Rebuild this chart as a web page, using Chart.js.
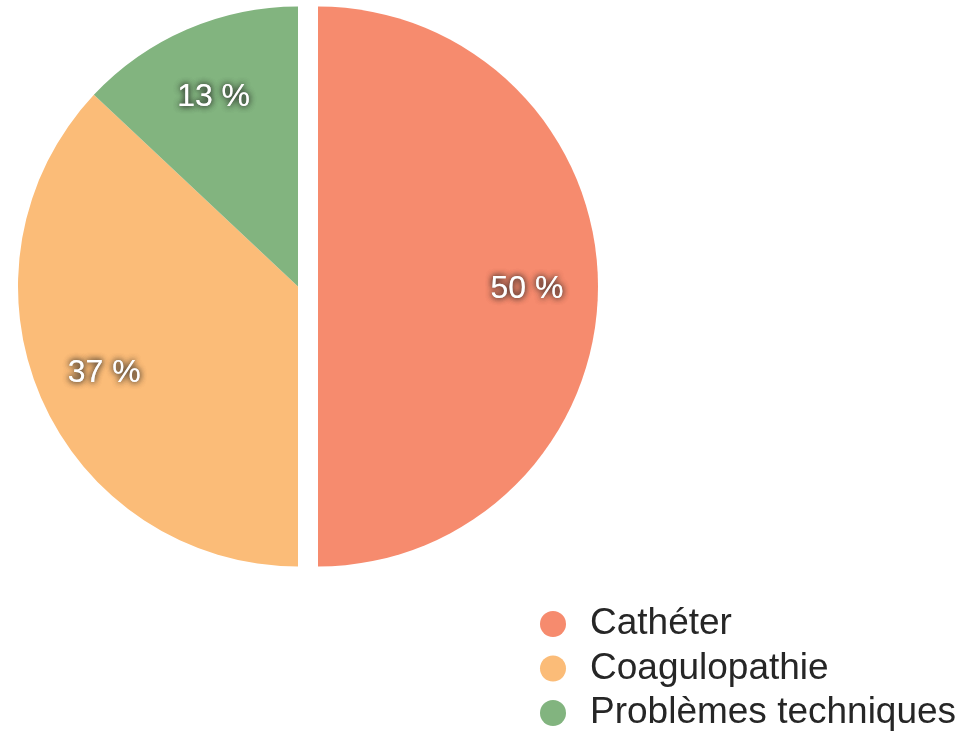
<!DOCTYPE html>
<html>
<head>
<meta charset="utf-8">
<script src="https://cdn.jsdelivr.net/npm/chart.js@4/dist/chart.umd.min.js"></script>
<style>
  html, body { margin: 0; padding: 0; background: #ffffff; }
  #wrap { position: relative; width: 972px; height: 734px; }
</style>
</head>
<body>
<div id="wrap"><canvas id="c" width="972" height="734"></canvas></div>
<script>
const categories = ['Cathéter', 'Coagulopathie', 'Problèmes techniques'];
const values = [50, 37, 13];
const percentLabels = ['50 %', '37 %', '13 %'];
const sliceColors = ['#F68B6E', '#FBBC78', '#82B47F'];
const explode = [20, 0, 0];

const FONT = '"Liberation Sans", Arial, Helvetica, sans-serif';

// Legend: drawn by Chart.js, placed in the lower-right corner
const legendPlacer = {
  id: 'legendPlacer',
  beforeInit(chart) {
    const lg = chart.legend;
    if (!lg) return;
    const origFit = lg.fit;
    lg.fit = function () {
      origFit.call(this);
      this.height = 0;
    };
  },
  afterLayout(chart) {
    const lg = chart.legend;
    if (!lg) return;
    lg.left = 527;
    lg.right = 972;
    lg.top = 598;
    lg.bottom = 734;
    lg.width = lg.right - lg.left;
    lg.height = lg.bottom - lg.top;
  }
};

// Exploded slice: shift the whole arc outward along its mid angle
const explodeSlices = {
  id: 'explodeSlices',
  beforeDatasetsDraw(chart) {
    const meta = chart.getDatasetMeta(0);
    meta.data.forEach((arc, i) => {
      const off = explode[i] || 0;
      if (!off || arc._exploded) return;
      const orig = arc.draw;
      arc.draw = function (ctx, area) {
        const mid = (this.startAngle + this.endAngle) / 2;
        ctx.save();
        ctx.translate(Math.cos(mid) * off, Math.sin(mid) * off);
        orig.call(this, ctx, area);
        ctx.restore();
      };
      arc._exploded = true;
    });
  }
};

const sliceLabels = {
  id: 'sliceLabels',
  afterDatasetsDraw(chart) {
    const ctx = chart.ctx;
    const meta = chart.getDatasetMeta(0);
    meta.data.forEach((arc, i) => {
      const p = arc.getProps(['x', 'y', 'startAngle', 'endAngle', 'outerRadius'], true);
      const mid = (p.startAngle + p.endAngle) / 2;
      const r = p.outerRadius * 0.75 + (explode[i] || 0);
      const lx = p.x + Math.cos(mid) * r - 1;
      const ly = p.y + Math.sin(mid) * r + 3;
      ctx.save();
      ctx.font = '32px ' + FONT;
      ctx.textAlign = 'center';
      ctx.textBaseline = 'middle';
      ctx.shadowColor = 'rgba(30,30,30,0.8)';
      ctx.shadowBlur = 6;
      ctx.fillStyle = '#ffffff';
      ctx.fillText(percentLabels[i], lx, ly);
      ctx.fillText(percentLabels[i], lx, ly);
      ctx.restore();
    });
  }
};

new Chart(document.getElementById('c'), {
  type: 'pie',
  data: {
    labels: categories,
    datasets: [{
      data: values,
      backgroundColor: sliceColors,
      borderWidth: 0,
      radius: 280
    }]
  },
  options: {
    responsive: false,
    animation: false,
    layout: { padding: { left: 0, right: 376, top: 0, bottom: 161 } },
    plugins: {
      tooltip: { enabled: false },
      legend: {
        display: true,
        position: 'bottom',
        align: 'start',
        labels: {
          usePointStyle: true,
          pointStyle: 'circle',
          boxWidth: 37,
          boxHeight: 18.4,
          padding: 7.5,
          color: '#262626',
          font: { size: 37, family: FONT }
        }
      }
    }
  },
  plugins: [legendPlacer, explodeSlices, sliceLabels]
});
</script>
</body>
</html>
